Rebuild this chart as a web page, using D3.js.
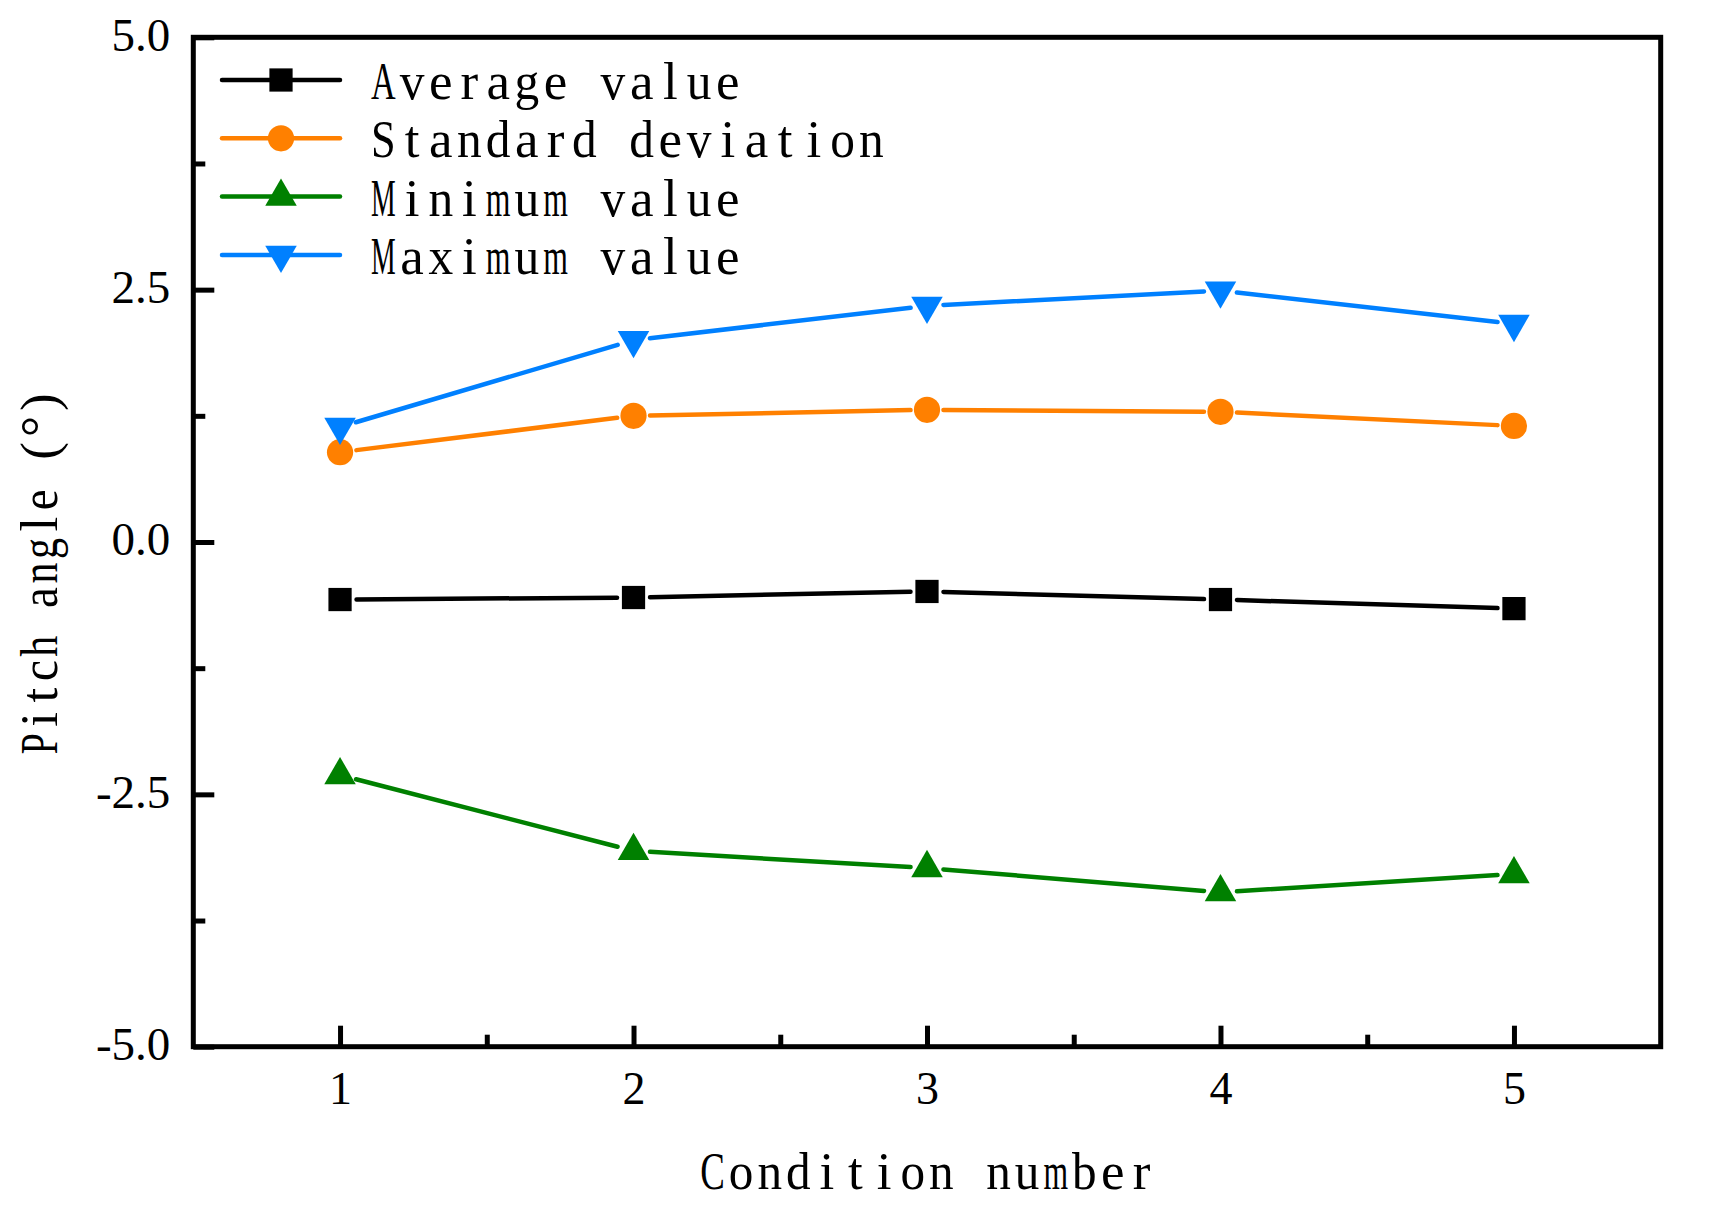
<!DOCTYPE html>
<html lang="en">
<head>
<meta charset="UTF-8">
<title>Pitch angle by condition</title>
<script src="https://d3js.org/d3.v7.min.js"></script>
<style>
    body { margin: 0; background: #fff; }
    .tick-label { font-family: "Liberation Serif", "Times New Roman", serif; fill: #000; }
    .mono { font-family: "Liberation Serif", "Times New Roman", serif; fill: #000; white-space: pre; }
</style>
</head>
<body>
<svg id="chart" width="1717" height="1212"></svg>
<script>
// data
const conditions = [1, 2, 3, 4, 5];
const averageValue = [-0.57, -0.55, -0.49, -0.57, -0.66];
const standardDeviation = [0.89, 1.25, 1.31, 1.29, 1.15];
const minimumValue = [-2.31, -3.06, -3.23, -3.47, -3.29];
const maximumValue = [1.14, 2.00, 2.34, 2.49, 2.16];
const yTicks = [-5, -2.5, 0, 2.5, 5];
const yTickLabels = ["-5.0", "-2.5", "0.0", "2.5", "5.0"];

const series = [
    { name: "Average value", values: averageValue, color: "#000000", shape: "square" },
    { name: "Standard deviation", values: standardDeviation, color: "#FF8000", shape: "circle" },
    { name: "Minimum value", values: minimumValue, color: "#008000", shape: "up" },
    { name: "Maximum value", values: maximumValue, color: "#0080FF", shape: "down" }
];

const svg = d3.select("#chart");
const plotLeft = 193.3, plotRight = 1660.7, plotTop = 37.3, plotBottom = 1046.7;

const x = d3.scaleLinear().domain([0.5, 5.5]).range([plotLeft, plotRight]);
const y = d3.scaleLinear().domain([-5, 5]).range([plotBottom, plotTop]);

function markerPath(shape) {
    const sym = d3.symbol();
    if (shape === "square") return sym.type(d3.symbolSquare).size(540)();
    if (shape === "circle") return sym.type(d3.symbolCircle).size(540)();
    return sym.type(d3.symbolTriangle).size(430)();
}
function markerTransform(shape, px, py) {
    return `translate(${px},${py})` + (shape === "down" ? " rotate(180)" : "");
}

// the original uses a fixed-pitch serif face: put serif glyphs on a grid,
// squeezing the wide ones (m, M, w...) so they fit their cell
function monoText(parent, str, x0, baseline, cell) {
    const t = parent.append("text")
        .attr("class", "mono")
        .attr("font-size", 53)
        .attr("transform", `translate(${x0},${baseline})`);
    const spans = t.selectAll("tspan")
        .data(Array.from(str))
        .enter()
        .append("tspan")
        .attr("y", 0)
        .text(c => c);
    spans.each(function (c, i) {
        const w = this.getComputedTextLength();
        const fit = Math.min(w, cell * 0.86);
        const sel = d3.select(this).attr("x", i * cell + (cell - fit) / 2);
        if (w > fit) sel.attr("textLength", fit).attr("lengthAdjust", "spacingAndGlyphs");
    });
    return t;
}

// axes (ticks pointing inward)
const xAxis = d3.axisBottom(x).tickValues(conditions).tickSizeInner(-21).tickSizeOuter(0).tickPadding(25).tickFormat(d3.format("d"));
const xMinor = d3.axisBottom(x).tickValues([1.5, 2.5, 3.5, 4.5]).tickSizeInner(-12).tickSizeOuter(0).tickFormat("");
const yAxis = d3.axisLeft(y).tickValues(yTicks).tickSizeInner(-21).tickSizeOuter(0).tickPadding(23).tickFormat((d, i) => yTickLabels[i]);
const yMinor = d3.axisLeft(y).tickValues([-3.75, -1.25, 1.25, 3.75]).tickSizeInner(-12).tickSizeOuter(0).tickFormat("");

function styleAxis(g, fontSize) {
    g.select(".domain").remove();
    g.selectAll("line").attr("stroke", "#000").attr("stroke-width", 5);
    g.selectAll("text").attr("class", "tick-label").style("font-size", fontSize + "px");
}

svg.append("g").attr("transform", `translate(0,${plotBottom})`).call(xAxis).call(g => styleAxis(g, 46));
svg.append("g").attr("transform", `translate(0,${plotBottom})`).call(xMinor).call(g => styleAxis(g, 46));
svg.append("g").attr("transform", `translate(${plotLeft},0)`).call(yAxis).call(g => styleAxis(g, 47))
    .selectAll("text").attr("dy", "0.27em");
svg.append("g").attr("transform", `translate(${plotLeft},0)`).call(yMinor).call(g => styleAxis(g, 47));

// frame
svg.append("rect")
    .attr("x", plotLeft).attr("y", plotTop)
    .attr("width", plotRight - plotLeft).attr("height", plotBottom - plotTop)
    .attr("fill", "none").attr("stroke", "#000").attr("stroke-width", 5);

// lines with small gaps around the markers
const gap = 16.5;
series.forEach(s => {
    const pts = conditions.map((c, i) => [x(c), y(s.values[i])]);
    const segs = d3.pairs(pts).map(([a, b]) => {
        const dx = b[0] - a[0], dy = b[1] - a[1];
        const len = Math.hypot(dx, dy);
        const ux = dx / len, uy = dy / len;
        return [[a[0] + ux * gap, a[1] + uy * gap], [b[0] - ux * gap, b[1] - uy * gap]];
    });
    svg.append("g").selectAll("line")
        .data(segs)
        .enter()
        .append("line")
        .attr("x1", d => d[0][0]).attr("y1", d => d[0][1])
        .attr("x2", d => d[1][0]).attr("y2", d => d[1][1])
        .attr("stroke", s.color)
        .attr("stroke-width", 4.5)
        .attr("stroke-linecap", "round");

    svg.append("g").selectAll("path")
        .data(s.values)
        .enter()
        .append("path")
        .attr("d", markerPath(s.shape))
        .attr("transform", (d, i) => markerTransform(s.shape, x(conditions[i]), y(d)))
        .attr("fill", s.color);
});

// legend
const legend = svg.append("g");
series.forEach((s, i) => {
    const cy = 80 + i * 58.3;
    legend.append("line")
        .attr("x1", 222).attr("x2", 340)
        .attr("y1", cy).attr("y2", cy)
        .attr("stroke", s.color).attr("stroke-width", 4.5).attr("stroke-linecap", "round");
    legend.append("path")
        .attr("d", markerPath(s.shape))
        .attr("transform", markerTransform(s.shape, 281, cy))
        .attr("fill", s.color);
    monoText(legend, s.name, 369, cy + 19, 28.7);
});

// axis titles
const xTitle = "Condition number";
monoText(svg, xTitle, (plotLeft + plotRight) / 2 - xTitle.length * 28.6 / 2, 1189, 28.6);

const yTitle = "Pitch angle (°)";
const yTitleG = svg.append("g").attr("transform", "translate(56.7,573) rotate(-90)");
monoText(yTitleG, yTitle, -yTitle.length * 24.4 / 2, 0, 24.4);
</script>
</body>
</html>
